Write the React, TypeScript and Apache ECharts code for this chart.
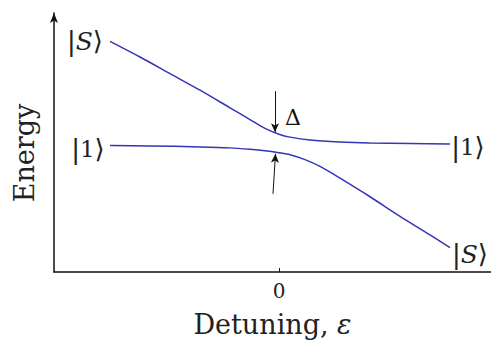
import React, { useEffect, useRef } from "react";
import * as echarts from "echarts";

// Detuning (x) and energy (y) in arbitrary units
const upperX = [-1.69, -1.39, -1.09, -0.79, -0.49, -0.29, -0.14, 0, 0.11, 0.31, 0.61, 0.91, 1.31, 1.71];
const upperY = [2.36, 2.2, 2.03, 1.86, 1.68, 1.56, 1.47, 1.41, 1.38, 1.35, 1.33, 1.32, 1.315, 1.31];
const lowerX = [-1.69, -1.29, -0.79, -0.49, -0.29, -0.14, 0, 0.11, 0.26, 0.41, 0.61, 0.91, 1.21, 1.51, 1.71];
const lowerY = [1.295, 1.29, 1.28, 1.27, 1.255, 1.24, 1.22, 1.2, 1.15, 1.08, 0.96, 0.77, 0.57, 0.38, 0.25];
const xTicks = [0];
const xTickLabels = ["0"];

const SERIF = "'DejaVu Serif', 'Liberation Serif', serif";
const BLUE = "#3535b5";

export default function App() {
  const ref = useRef<HTMLDivElement>(null);
  useEffect(() => {
    document.body.style.margin = "0";
    const chart = echarts.init(ref.current!, null, { renderer: "svg" });
    const ket = (s: string, italic: boolean) => ({
      type: "text",
      style: {
        text: italic ? `{b||}{s|${s}}{b|\u27E9}` : `{b||}{n|${s}}{b|\u27E9}`,
        align: "center",
        verticalAlign: "middle",
        rich: {
          b: { fontFamily: "'DejaVu Sans', serif", fontSize: 26, fill: "#222" },
          s: { fontFamily: SERIF, fontStyle: "italic", fontSize: 25, fill: "#222" },
          n: { fontFamily: SERIF, fontSize: 23, fill: "#222" },
        },
      },
    });
    chart.setOption({
      animation: false,
      grid: { left: 54, right: 0, top: 13, bottom: 65 },
      xAxis: {
        type: "value",
        min: -2.25,
        max: 2.12,
        splitLine: { show: false },
        axisLine: { onZero: false, lineStyle: { color: "#111", width: 1.5 } },
        axisTick: { show: true, inside: true, length: 4, customValues: xTicks, lineStyle: { color: "#111" } },
        axisLabel: {
          customValues: xTicks,
          formatter: (v: number) => xTickLabels[xTicks.indexOf(v)] ?? "",
          fontFamily: SERIF,
          fontSize: 20,
          color: "#222",
          margin: 9,
        },
        name: "{t|Detuning, }{e|\u03B5}",
        nameLocation: "middle",
        nameGap: 39,
        nameTextStyle: {
          fontFamily: SERIF,
          fontSize: 27,
          color: "#222",
          rich: {
            t: { fontFamily: SERIF, fontSize: 27, color: "#222" },
            e: { fontFamily: SERIF, fontStyle: "italic", fontSize: 27, color: "#222" },
          },
        },
      },
      yAxis: {
        type: "value",
        min: 0,
        max: 2.65,
        splitLine: { show: false },
        axisLabel: { show: false },
        axisTick: { show: false },
        axisLine: {
          show: true,
          onZero: false,
          symbol: ["none", "arrow"],
          symbolSize: [6, 10],
          lineStyle: { color: "#111", width: 1.5 },
        },
      },
      series: [
        {
          type: "line",
          data: upperX.map((x, i) => [x, upperY[i]]),
          smooth: 0.3,
          symbol: "none",
          lineStyle: { color: BLUE, width: 1.5 },
          markLine: {
            silent: true,
            symbol: ["none", "arrow"],
            symbolSize: [6, 9],
            label: { show: false },
            lineStyle: { color: "#111", width: 1, type: "solid" },
            data: [
              [{ coord: [-0.04, 1.85] }, { coord: [-0.04, 1.43] }],
              [{ coord: [-0.06, 0.8] }, { coord: [-0.035, 1.21] }],
            ],
          },
        },
        {
          type: "line",
          data: lowerX.map((x, i) => [x, lowerY[i]]),
          smooth: 0.3,
          symbol: "none",
          lineStyle: { color: BLUE, width: 1.5 },
        },
      ],
      graphic: [
        { ...ket("S", true), x: 85, y: 41 },
        { ...ket("1", false), x: 88, y: 149 },
        { ...ket("1", false), x: 468, y: 147 },
        { ...ket("S", true), x: 470, y: 254 },
        {
          type: "text",
          x: 293,
          y: 117,
          style: { text: "\u0394", fontFamily: SERIF, fontSize: 22, fill: "#111", align: "center", verticalAlign: "middle" },
        },
        {
          type: "text",
          x: 24,
          y: 153,
          rotation: Math.PI / 2,
          style: { text: "Energy", fontFamily: SERIF, fontSize: 27, fill: "#222", align: "center", verticalAlign: "middle" },
        },
      ],
    });
    return () => chart.dispose();
  }, []);
  return <div ref={ref} style={{ width: 491, height: 343, position: "absolute", left: 0, top: 0 }} />;
}
